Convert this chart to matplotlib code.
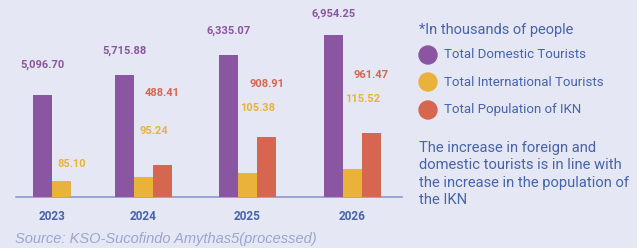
import matplotlib
matplotlib.use("Agg")
import matplotlib.pyplot as plt
from matplotlib.patches import Circle
import numpy as np

# datos
years = ["2023", "2024", "2025", "2026"]
domestic = [5096.70, 5715.88, 6335.07, 6954.25]
international = [85.10, 95.24, 105.38, 115.52]
population = [np.nan, 488.41, 908.91, 961.47]

series_names = ["Total Domestic Tourists", "Total International Tourists",
                "Total Population of IKN"]
note = "*In thousands of people"
comment = ("The increase in foreign and\ndomestic tourists is in line with\n"
           "the increase in the population of\nthe IKN")
source = "Source: KSO-Sucofindo Amythas5(processed)"

# colores
bg = "#E6E7F4"
purple = "#8A56A1"
yellow = "#E9B23B"
red = "#D66650"
blue = "#4563B0"

W, H = 637, 248
fig = plt.figure(figsize=(W / 100, H / 100), dpi=100, facecolor=bg)

# ejes del grafico en pixeles (x de 16 a 402, base en y=197)
ax = fig.add_axes([16 / W, (H - 197) / H, 386 / W, 197 / H])
ax.set_facecolor("none")
ax.set_xlim(16, 402)
ax_i = ax.twinx()
ax_p = ax.twinx()

# cada serie con su propia escala (infografia, no proporcional)
ax.set_ylim(1941, 8040)
ax_i.set_ylim(44.6, 543)
ax_p.set_ylim(0, 2971)

centers = np.array([52, 143.5, 247.5, 352.5])
bw = 19
x_dom = centers - bw
x_dom[0] = centers[0] - bw / 2
x_int = centers.copy()
x_int[0] = centers[0] + bw / 2
x_pop = centers + bw

ax.bar(x_dom, domestic, width=bw, color=purple)
ax_i.bar(x_int, international, width=bw, color=yellow)
ax_p.bar(x_pop, population, width=bw, color=red)

for a in (ax, ax_i, ax_p):
    for s in a.spines.values():
        s.set_visible(False)
    a.set_yticks([])
ax.spines["bottom"].set_visible(True)
ax.spines["bottom"].set_color("#8B9AD3")
ax.spines["bottom"].set_linewidth(1.2)
ax.spines["bottom"].set_zorder(0)

ax.set_xticks(centers, years)
ax.tick_params(axis="x", length=0, pad=9, labelsize=8.5, labelcolor=blue)
for t in ax.get_xticklabels():
    t.set_fontfamily("Roboto")
    t.set_fontweight("bold")

# capa de texto en pixeles
ov = fig.add_axes([0, 0, 1, 1])
ov.set_xlim(0, W)
ov.set_ylim(H, 0)
ov.axis("off")
ov.patch.set_alpha(0)

vfont = dict(family="Roboto", fontsize=8, fontweight="bold", ha="center", va="center")
dom_y = [65, 51, 31, 14]
int_y = [164, 131, 108, 99]
pop_y = [None, 93, 84, 75]
for i in range(4):
    ov.text(x_dom[i], dom_y[i], f"{domestic[i]:,.2f}", color=purple, **vfont)
    ov.text(x_int[i] + 10, int_y[i], f"{international[i]:,.2f}", color=yellow, **vfont)
    if pop_y[i] is not None:
        ov.text(x_pop[i], pop_y[i], f"{population[i]:,.2f}", color=red, **vfont)

# leyenda
ov.text(419, 30, note, color=blue, fontsize=10.5, family="Roboto", va="center")
for yy, c, name in zip([55, 82, 110], [purple, yellow, red], series_names):
    ov.add_patch(Circle((428, yy), 9, color=c))
    ov.text(444, yy, name, color=blue, fontsize=9.5, family="Roboto", va="center")

ov.text(419, 141, comment, color=blue, fontsize=10.6, family="Roboto",
        va="top", linespacing=1.3)

ov.text(15, 239, source, color="#9AA6D0", fontsize=10.5, family="Liberation Sans",
        style="italic", va="center")

fig.savefig("out.png", dpi=100, facecolor=bg)
